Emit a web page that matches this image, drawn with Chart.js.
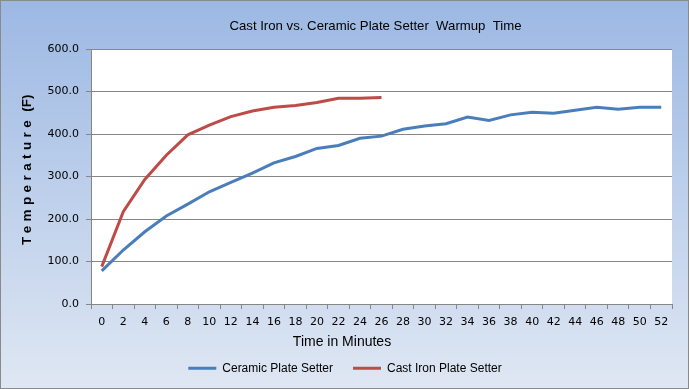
<!DOCTYPE html>
<html><head><meta charset="utf-8">
<script src="https://cdn.jsdelivr.net/npm/chart.js@4"></script>
<style>html,body{margin:0;padding:0;background:#fff}</style>
</head><body>
<canvas id="c" width="689" height="389"></canvas>
<script>
const minutes = ['0','2','4','6','8','10','12','14','16','18','20','22','24','26','28','30','32','34','36','38','40','42','44','46','48','50','52'];
const ceramicTemps = [78,127,170,207,235,264,286,308,332,347,366,373,390,395,411,419,424,440,432,445,451,449,456,463,458,463,463];
const castIronTemps = [88,217,293,350,398,421,441,454,463,467,474,484,484,486];
const seriesNames = ['Ceramic Plate Setter','Cast Iron Plate Setter'];
const chartTitle = 'Cast Iron vs. Ceramic Plate Setter  Warmup  Time';
const xTitle = 'Time in Minutes';
const yTitleWord = 'Temperature';
const yTitleUnit = '(F)';

const GRID = '#868686';
const bgPlugin = {
  id: 'bg',
  beforeDraw(chart) {
    const {ctx, width, height, chartArea} = chart;
    ctx.save();
    const g = ctx.createLinearGradient(0, 0, 0, height);
    g.addColorStop(0, '#9cb8e3');
    g.addColorStop(1, '#dfe7f3');
    ctx.fillStyle = g;
    ctx.fillRect(0, 0, width, height);
    ctx.strokeStyle = '#8a8a8a';
    ctx.lineWidth = 1;
    ctx.strokeRect(0.5, 0.5, width - 1, height - 1);
    ctx.fillStyle = '#ffffff';
    ctx.fillRect(chartArea.left, chartArea.top, chartArea.right - chartArea.left, chartArea.bottom - chartArea.top);
    ctx.restore();
  },
  afterLayout(chart) {
    const t = chart.titleBlock;
    if (t) { t.left += 39.5; t.right += 39.5; }
    const l = chart.legend;
    if (l) { l.left += 9; l.right += 9; }
  },
  afterDraw(chart) {
    const {ctx} = chart;
    const y = chart.scales.y;
    const x = chart.scales.x;
    ctx.save();
    // y axis title
    ctx.translate(30.7, y.bottom - 59);
    ctx.rotate(-Math.PI / 2);
    ctx.font = 'bold 13.5px "Liberation Sans"';
    ctx.fillStyle = '#000';
    ctx.textAlign = 'left';
    ctx.textBaseline = 'alphabetic';
    ctx.letterSpacing = '4.4px';
    const w = ctx.measureText(yTitleWord).width;
    ctx.fillText(yTitleWord, 0, 0);
    ctx.letterSpacing = '0px';
    ctx.fillText(yTitleUnit, w + 4, 0);
    ctx.restore();
    // x axis title
    ctx.save();
    ctx.font = '14px "Liberation Sans"';
    ctx.fillStyle = '#000';
    ctx.textAlign = 'center';
    ctx.textBaseline = 'alphabetic';
    ctx.fillText(xTitle, chart.width / 2 - 2.5, x.top + 42);
    ctx.restore();
  }
};

new Chart(document.getElementById('c'), {
  type: 'line',
  data: {
    labels: minutes,
    datasets: [
      {label: seriesNames[0], data: ceramicTemps, borderColor: '#4a7ebb', backgroundColor: '#4a7ebb', borderWidth: 3, pointRadius: 0, tension: 0},
      {label: seriesNames[1], data: castIronTemps, borderColor: '#be4b48', backgroundColor: '#be4b48', borderWidth: 3, pointRadius: 0, tension: 0}
    ]
  },
  options: {
    responsive: false,
    animation: false,
    layout: {padding: {left: 0, right: 17, top: 0, bottom: 4.7}},
    plugins: {
      title: {
        display: true, text: chartTitle, color: '#000',
        font: {family: '"Liberation Sans"', size: 13.2, weight: 'normal'},
        padding: {top: 18.1, bottom: 15.06}
      },
      legend: {
        position: 'bottom',
        labels: {
          color: '#000', font: {family: '"Liberation Sans"', size: 12},
          boxWidth: 28, boxHeight: 3, padding: 20,
          generateLabels(chart) {
            return chart.data.datasets.map((d, i) => ({
              text: d.label, fillStyle: d.borderColor, strokeStyle: d.borderColor,
              lineWidth: 0, hidden: false, datasetIndex: i, fontColor: '#000'
            }));
          }
        }
      },
      tooltip: {enabled: false}
    },
    scales: {
      x: {
        offset: true,
        grid: {offset: true, drawOnChartArea: false, drawTicks: true, tickLength: 5, color: GRID},
        border: {display: true, color: GRID, width: 1},
        ticks: {autoSkip: false, maxRotation: 0, color: '#000', padding: 7, font: {family: '"DejaVu Sans"', size: 11}},
        title: {display: false},
        afterFit(s) { s.height = 38.3; }
      },
      y: {
        min: 0, max: 600,
        grid: {color: GRID, lineWidth: 1, tickLength: 5, drawTicks: true},
        border: {display: true, color: GRID, width: 1},
        ticks: {stepSize: 100, color: '#000', padding: 7, font: {family: '"DejaVu Sans"', size: 11}, callback: v => Number(v).toFixed(1)},
        title: {display: false},
        afterFit(s) { s.width = 91; }
      }
    }
  },
  plugins: [bgPlugin]
});
</script>
</body></html>
